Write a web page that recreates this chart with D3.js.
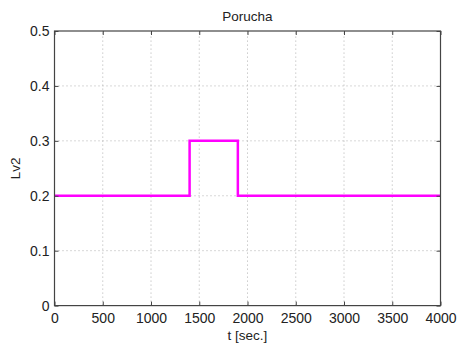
<!DOCTYPE html>
<html>
<head>
<meta charset="utf-8">
<script src="https://cdn.jsdelivr.net/npm/d3@7"></script>
<style>
  body { margin: 0; background: #fff; }
  text { font-family: "Liberation Sans", Arial, sans-serif; fill: #222; }
</style>
</head>
<body>
<svg id="chart" width="459" height="350"></svg>
<script>
// step disturbance signal (time, value)
const times = [0, 1400, 1400, 1900, 1900, 4000];
const values = [0.2, 0.2, 0.3, 0.3, 0.2, 0.2];
const xTicks = [0, 500, 1000, 1500, 2000, 2500, 3000, 3500, 4000];
const yTicks = [0, 0.1, 0.2, 0.3, 0.4, 0.5];

const margin = { top: 31, right: 18.5, bottom: 44.4, left: 54.5 };
const width = 459, height = 350;
const tickFont = 14;
const labelFont = 13.5;

const svg = d3.select("#chart");

const x = d3.scaleLinear().domain([0, 4000]).range([margin.left, width - margin.right]);
const y = d3.scaleLinear().domain([0, 0.5]).range([height - margin.bottom, margin.top]);

// grid
const grid = svg.append("g")
  .attr("stroke", "#b0b0b0")
  .attr("stroke-width", 1)
  .attr("stroke-dasharray", "1,3");

grid.selectAll("line.vx")
  .data(xTicks.slice(1, -1))
  .enter()
  .append("line")
  .attr("x1", (d) => x(d))
  .attr("x2", (d) => x(d))
  .attr("y1", y(0))
  .attr("y2", y(0.5));

grid.selectAll("line.hy")
  .data(yTicks.slice(1, -1))
  .enter()
  .append("line")
  .attr("x1", x(0))
  .attr("x2", x(4000))
  .attr("y1", (d) => y(d))
  .attr("y2", (d) => y(d));

// signal
const line = d3.line()
  .x((d, i) => x(times[i]))
  .y((d) => y(d));

svg.append("path")
  .datum(values)
  .attr("fill", "none")
  .attr("stroke", "#ff00ff")
  .attr("stroke-width", 2.5)
  .attr("d", line);

// axes (inward ticks, no domain path)
const tickLen = 4;

const xAxis = svg.append("g")
  .attr("transform", `translate(0,${y(0)})`)
  .call(d3.axisBottom(x).tickValues(xTicks).tickSize(-tickLen).tickPadding(7).tickFormat(d3.format("d")));
const xTop = svg.append("g")
  .attr("transform", `translate(0,${y(0.5)})`)
  .call(d3.axisTop(x).tickValues(xTicks).tickSize(-tickLen).tickFormat(""));
const yAxis = svg.append("g")
  .attr("transform", `translate(${x(0)},0)`)
  .call(d3.axisLeft(y).tickValues(yTicks).tickSize(-tickLen).tickPadding(5).tickFormat((d) => (d === 0 ? "0" : d3.format(".1f")(d))));
const yRight = svg.append("g")
  .attr("transform", `translate(${x(4000)},0)`)
  .call(d3.axisRight(y).tickValues(yTicks).tickSize(-tickLen).tickFormat(""));

[xAxis, xTop, yAxis, yRight].forEach((g) => {
  g.select(".domain").remove();
  g.selectAll(".tick line").attr("stroke", "#444");
  g.selectAll("text")
    .attr("font-size", tickFont)
    .attr("font-family", "Liberation Sans, Arial, sans-serif")
    .attr("fill", "#222");
});

// frame
svg.append("rect")
  .attr("x", x(0))
  .attr("y", y(0.5))
  .attr("width", x(4000) - x(0))
  .attr("height", y(0) - y(0.5))
  .attr("fill", "none")
  .attr("stroke", "#444")
  .attr("stroke-width", 1.2);

// labels
svg.append("text")
  .attr("x", (x(0) + x(4000)) / 2)
  .attr("y", 21)
  .attr("text-anchor", "middle")
  .attr("font-size", labelFont)
  .text("Porucha");

svg.append("text")
  .attr("x", (x(0) + x(4000)) / 2)
  .attr("y", 340)
  .attr("text-anchor", "middle")
  .attr("font-size", labelFont)
  .text("t [sec.]");

svg.append("text")
  .attr("transform", `translate(19.5,${(y(0) + y(0.5)) / 2}) rotate(-90)`)
  .attr("text-anchor", "middle")
  .attr("font-size", labelFont)
  .text("Lv2");
</script>
</body>
</html>
